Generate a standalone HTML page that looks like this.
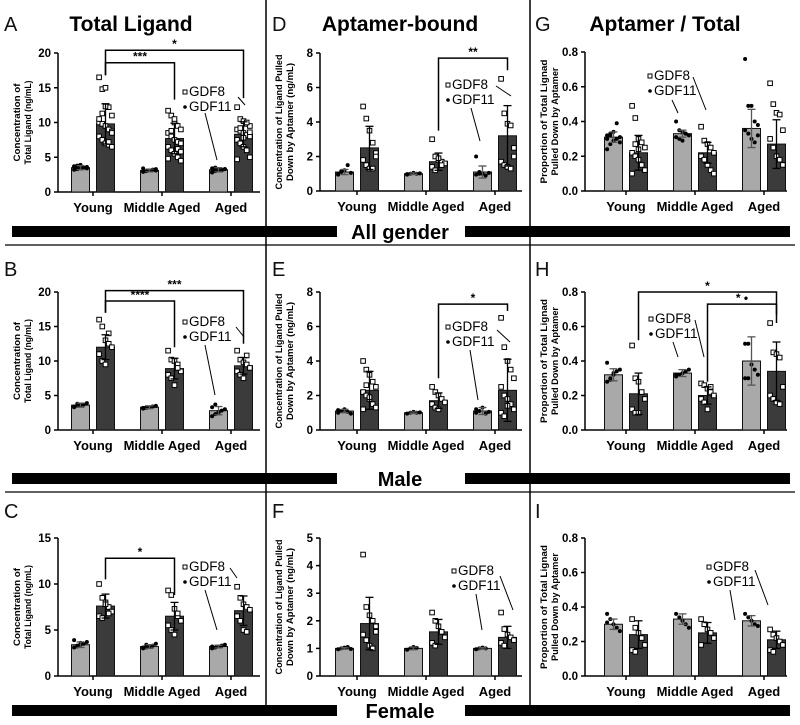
<!DOCTYPE html>
<html><head><meta charset="utf-8"><style>
html,body{margin:0;padding:0;background:#fff;}
svg{display:block;font-family:"Liberation Sans",Arial,sans-serif;}
</style></head><body>
<svg id="fig" width="800" height="725" viewBox="0 0 800 725"></svg>
<script>
// ---------- data ----------
const categories = ['Young','Middle Aged','Aged'];
// Panel A
const aMean11=[3.5,3.1,3.2], aErr11=[0.3,0.2,0.3], aMean8=[9.8,7.7,8.3], aErr8=[2.9,2.2,1.8];
const aPts11=[[3.2,3.3,3.4,3.5,3.6,3.7,3.8,3.9,3.5,3.4,3.6,3.3],[2.9,3.0,3.1,3.2,3.3,3.4,3.0,3.1,3.2,3.1],[2.8,3.0,3.1,3.2,3.3,3.4,3.5,3.2,3.1,3.3,2.9]];
const aPts8=[[16.5,14.8,15,12.2,11,10,9.8,9.5,9,8.7,8,7.5,7,6.8,6.5,10.5,11.3,12.3,7.2,8.5],[11.7,11,10,9.5,9,8.5,8,7.5,7.2,7,6.5,6,5.5,5,4.5,4.8,8.8,10.5,6.2,5.8],[12.2,10.5,10.2,9.8,9.5,9,8.8,8.5,8.2,8,7.5,7,6.5,6,5,4.7,9.2,7.8,10,8.6]];
const aBrFrom=[0,0], aBrTo=[1,2], aBrY=[18.6,20.4], aBrL=[16.8,16.8], aBrR=[13.3,13.5], aBrLbl=['***','*'];
// Panel B
const bMean11=[3.6,3.3,2.8], bErr11=[0.3,0.2,0.6], bMean8=[12,8.9,9.3], bErr8=[1.8,1.5,1.2];
const bPts11=[[3.3,3.5,3.6,3.7,3.9,3.4,3.8,3.6],[3.1,3.2,3.3,3.4,3.5,3.2,3.3],[2.0,2.3,2.6,2.8,3.0,3.3,3.7,2.5]];
const bPts8=[[16,15,13,12.5,12,11,10,9.5,14],[11.5,10.2,10,9.5,8.5,8,7.5,6.5,9],[11.5,10.2,9.8,9.5,9,8.5,8,7.5,10.8]];
const bBrFrom=[0,0], bBrTo=[1,2], bBrY=[18.7,20.2], bBrL=[17,17], bBrR=[12,12.5], bBrLbl=['****','***'];
// Panel C
const cMean11=[3.4,3.2,3.2], cErr11=[0.3,0.2,0.15], cMean8=[7.6,6.5,7.1], cErr8=[1.3,1.5,1.6];
const cPts11=[[3.1,3.3,3.4,3.5,3.7,3.9,3.2,3.6],[3.0,3.1,3.2,3.3,3.5,3.1,3.4],[3.0,3.1,3.2,3.3,3.4,3.2]];
const cPts8=[[10,8.5,8,7.5,7,6.5,6.3,7.8,6.8],[9.3,8.8,7.3,6.5,6,5.5,5,4.5,6.8],[9.7,8.5,7.8,7.5,7.2,6.5,6,5,4.8]];
const cBrFrom=[0], cBrTo=[1], cBrY=[12.8], cBrL=[10.5], cBrR=[8.8], cBrLbl=['*'];
// Panel D
const dMean11=[1.1,1.0,1.1], dErr11=[0.15,0.05,0.35], dMean8=[2.5,1.7,3.2], dErr8=[1.25,0.5,1.75];
const dPts11=[[1.0,1.1,1.2,1.5,1.05,0.95,1.15],[0.95,1.0,1.05,1.0,1.02,0.98],[2.0,1.1,1.0,0.9,1.05,0.95,1.0]];
const dPts8=[[4.9,4.2,3.5,2.8,2.2,1.8,1.5,1.3,1.3,2.0],[3.0,2.0,1.8,1.7,1.6,1.4,1.2,1.9,1.5],[6.5,4.5,3.9,3.8,2.0,1.7,1.5,1.4,1.3,2.5]];
const dBrFrom=[1], dBrTo=[2], dBrY=[7.7], dBrL=[3.5], dBrR=[7.0], dBrLbl=['**'];
// Panel E
const eMean11=[1.1,1.0,1.1], eErr11=[0.1,0.05,0.2], eMean8=[2.3,1.7,2.3], eErr8=[1.1,0.45,1.8];
const ePts11=[[1.0,1.1,1.2,1.05,0.95,1.15],[0.95,1.0,1.05,1.0,1.02],[1.0,1.1,1.3,0.95,1.05,1.2]];
const ePts8=[[4,3.5,3.2,2.8,2.5,2.2,2,1.8,1.5,1.3,1.2,2.6,1.9],[2.5,2.2,2,1.8,1.6,1.5,1.3,1.2],[6.5,4.8,4,3.5,3,2.5,2,1.8,1.5,1.2,1,0.8,1.4]];
const eBrFrom=[1], eBrTo=[2], eBrY=[7.3], eBrL=[3.0], eBrR=[6.9], eBrLbl=['*'];
// Panel F
const fMean11=[1.0,1.0,1.0], fErr11=[0.03,0.05,0.03], fMean8=[1.9,1.6,1.4], fErr8=[0.95,0.45,0.4];
const fPts11=[[0.97,1.0,1.03,1.05,0.98],[0.95,1.0,1.05,1.02],[0.97,1.0,1.03,1.0]];
const fPts8=[[4.4,2.5,2.2,2,1.8,1.5,1.3,1.1,1,1.6],[2.3,2,1.8,1.6,1.4,1.2,1.1],[2.3,1.7,1.5,1.4,1.3,1.2,1.1]];
const fBrFrom=[], fBrTo=[], fBrY=[], fBrL=[], fBrR=[], fBrLbl=[];
// Panel G
const gMean11=[0.31,0.33,0.36], gErr11=[0.03,0.02,0.11], gMean8=[0.22,0.22,0.27], gErr8=[0.1,0.06,0.14];
const gPts11=[[0.24,0.27,0.29,0.3,0.31,0.32,0.33,0.34,0.39,0.28,0.3,0.32],[0.4,0.35,0.34,0.33,0.32,0.31,0.3,0.29,0.33],[0.76,0.49,0.49,0.4,0.38,0.35,0.33,0.3,0.28,0.32]];
const gPts8=[[0.49,0.42,0.3,0.28,0.25,0.22,0.2,0.18,0.15,0.12,0.1,0.27,0.24],[0.37,0.29,0.27,0.25,0.22,0.2,0.18,0.15,0.12,0.1],[0.62,0.5,0.45,0.44,0.35,0.3,0.25,0.2,0.18,0.15]];
const gBrFrom=[], gBrTo=[], gBrY=[], gBrL=[], gBrR=[], gBrLbl=[];
// Panel H
const hMean11=[0.32,0.33,0.40], hErr11=[0.035,0.02,0.14], hMean8=[0.21,0.2,0.34], hErr8=[0.12,0.05,0.17];
const hPts11=[[0.28,0.3,0.32,0.34,0.35,0.39,0.29,0.33],[0.31,0.32,0.33,0.34,0.35,0.32],[0.5,0.5,0.38,0.35,0.32,0.3,0.3]];
const hPts8=[[0.49,0.3,0.28,0.22,0.18,0.12,0.1,0.1],[0.27,0.26,0.24,0.22,0.2,0.18,0.16,0.12,0.25],[0.62,0.45,0.44,0.42,0.25,0.2,0.18,0.16,0.15]];
const hBrFrom=[0,1], hBrTo=[2,2], hBrY=[0.8,0.73], hBrL=[0.52,0.28], hBrR=[0.62,0.67], hBrLbl=['*','* •'];
// Panel I
const iMean11=[0.30,0.33,0.32], iErr11=[0.03,0.03,0.03], iMean8=[0.24,0.25,0.21], iErr8=[0.08,0.06,0.05];
const iPts11=[[0.36,0.33,0.3,0.28,0.26,0.31],[0.36,0.34,0.32,0.3,0.28],[0.36,0.34,0.32,0.3,0.29]];
const iPts8=[[0.33,0.28,0.25,0.22,0.18,0.15,0.14],[0.33,0.3,0.27,0.25,0.22,0.18],[0.27,0.24,0.22,0.2,0.18,0.15,0.14]];
const iBrFrom=[], iBrTo=[], iBrY=[], iBrL=[], iBrR=[], iBrLbl=[];
// tick labels
const ticksA=['0','5','10','15','20'];
const ticksC=['0','5','10','15'];
const ticksD=['0','2','4','6','8'];
const ticksF=['0','1','2','3','4','5'];
const ticksG=['0.0','0.2','0.4','0.6','0.8'];

// ---------- drawing ----------
const NS='http://www.w3.org/2000/svg';
const svg=document.getElementById('fig');
function mk(tag,attrs,parent,txt){const e=document.createElementNS(NS,tag);for(const k in attrs)e.setAttribute(k,attrs[k]);if(txt!==undefined)e.textContent=txt;(parent||svg).appendChild(e);return e;}

function panel(p){
  const g=mk('g',{});
  
  
  const top=p.top, bot=p.bot, ax=p.ax, ymax=p.ymax;
  const y=v=>bot-v/ymax*(bot-top);
  const cx=(gi)=>ax+p.off+gi*69;
  const bx=(gi,b)=>cx(gi)+(b===0?-12.5:12.5);
  // letter
  const L=mk('text',{x:p.lx,y:p.ly,'font-size':20,fill:'#111'},g,p.letter);
  
  
  if(p.title){const T=mk('text',{x:p.tx,y:p.ly,'font-size':21,'font-weight':'bold','text-anchor':'middle'},g,p.title);
    
    }
  // y-axis title
  const mid=(top+bot)/2;
  p.ytitle.forEach((t,i)=>{const e=mk('text',{x:0,y:0,'font-size':9,'font-weight':'bold','text-anchor':'middle',transform:`translate(${ax-38+i*11},${mid}) rotate(-90)`,textLength:p.ytl[i],lengthAdjust:'spacingAndGlyphs'},g,t);
    
    });
  // axes
  mk('line',{x1:ax,y1:top,x2:ax,y2:bot,stroke:'#000','stroke-width':1.5},g);
  mk('line',{x1:ax,y1:bot,x2:ax+202,y2:bot,stroke:'#000','stroke-width':1.5},g);
  p.ticks.forEach((t,i)=>{const v=i*ymax/(p.ticks.length-1);
    mk('line',{x1:ax-4,y1:y(v),x2:ax,y2:y(v),stroke:'#000','stroke-width':1.5},g);
    const e=mk('text',{x:ax-7,y:y(v)+4,'font-size':11.5,'font-weight':'bold','text-anchor':'end'},g,t);
    
    });
  categories.forEach((c,gi)=>{
    mk('line',{x1:cx(gi),y1:bot,x2:cx(gi),y2:bot+4,stroke:'#000','stroke-width':1.5},g);
    const e=mk('text',{x:cx(gi),y:bot+20,'font-size':13,'font-weight':'bold','text-anchor':'middle'},g,c);
    
    });
  // bars
  const series=[[p.m11,p.e11,p.p11,'#a9a9a9','GDF11'],[p.m8,p.e8,p.p8,'#3b3b3b','GDF8']];
  series.forEach((s,b)=>{
    s[0].forEach((m,gi)=>{
      const x=bx(gi,b);
      const r=mk('rect',{x:x-9,y:y(m),width:18,height:bot-y(m),fill:s[3],stroke:'#111','stroke-width':1},g);
      
      
      const pts=s[2][gi];
      pts.forEach((v,k)=>{
        const dx=((k%5)-2)*3.2;
        if(b===1){const q=mk('rect',{x:x+dx-2.3,y:y(v)-2.3,width:4.6,height:4.6,fill:'#fff',stroke:'#000','stroke-width':1},g);
          
          }
        else {const q=mk('circle',{cx:x+dx,cy:y(v),r:2,fill:'#000'},g);
          
          }
      });
      const e=s[1][gi];
      const ec=b===1?'#000':'#555';
      mk('line',{x1:x,y1:y(m+e),x2:x,y2:y(Math.max(0,m-e)),stroke:ec,'stroke-width':1.3},g);
      mk('line',{x1:x-4,y1:y(m+e),x2:x+4,y2:y(m+e),stroke:ec,'stroke-width':1.3},g);
      mk('line',{x1:x-4,y1:y(Math.max(0,m-e)),x2:x+4,y2:y(Math.max(0,m-e)),stroke:ec,'stroke-width':1.3},g);
    });
  });
  // brackets
  p.brFrom.forEach((f,i)=>{
    const x1=bx(f,1), x2=bx(p.brTo[i],1), yy=y(p.brY[i]);
    const pl=mk('polyline',{points:`${x1},${y(p.brL[i])} ${x1},${yy} ${x2},${yy} ${x2},${y(p.brR[i])}`,fill:'none',stroke:'#000','stroke-width':1.5},g);
    
    
    const t=mk('text',{x:(x1+x2)/2,y:yy-2,'font-size':12,'font-weight':'bold','text-anchor':'middle'},g,p.brLbl[i]);
    
    
  });
  // legend
  const lx=p.leg[0], ly=p.leg[1];
  mk('rect',{x:lx,y:ly-6,width:4,height:4,fill:'#fff',stroke:'#000','stroke-width':1},g);
  const l1=mk('text',{x:lx+6,y:ly,'font-size':13.5},g,'GDF8');
  
  
  mk('circle',{cx:lx+2,cy:ly+11,r:1.8,fill:'#000'},g);
  const l2=mk('text',{x:lx+6,y:ly+15,'font-size':13.5},g,'GDF11');
  
  
  p.lines.forEach(l=>mk('line',{x1:l[0],y1:l[1],x2:l[2],y2:l[3],stroke:'#000','stroke-width':1},g));
}

const yt1=['Concentration of','Total Ligand (ng/mL)'], ytl1=[78,84];
const yt2=['Concentration of Ligand Pulled','Down by Aptamer (ng/mL)'], ytl2=[135,118];
const yt3=['Proportion of Total Lignad','Pulled Down by Aptamer'], ytl3=[124,108];
const rows=[{top:53,bot:192,ly:31},{top:292,bot:430,ly:276},{top:538,bot:676,ly:518}];

panel({id:'a',letter:'A',title:'Total Ligand',tx:131,lx:4,ly:31,top:53,bot:192,ax:58,off:35,ymax:20,ticks:ticksA,ytitle:yt1,ytl:ytl1,
  m11:aMean11,e11:aErr11,m8:aMean8,e8:aErr8,p11:aPts11,p8:aPts8,brFrom:aBrFrom,brTo:aBrTo,brY:aBrY,brL:aBrL,brR:aBrR,brLbl:aBrLbl,
  leg:[183,96],lines:[[238,97,245,105],[205,113,217,160]]});
panel({id:'b',letter:'B',lx:4,ly:276,top:292,bot:430,ax:58,off:35,ymax:20,ticks:ticksA,ytitle:yt1,ytl:ytl1,
  m11:bMean11,e11:bErr11,m8:bMean8,e8:bErr8,p11:bPts11,p8:bPts8,brFrom:bBrFrom,brTo:bBrTo,brY:bBrY,brL:bBrL,brR:bBrR,brLbl:bBrLbl,
  leg:[183,326],lines:[[236,327,244,337],[205,345,215,395]]});
panel({id:'c',letter:'C',lx:4,ly:518,top:538,bot:676,ax:58,off:35,ymax:15,ticks:ticksC,ytitle:yt1,ytl:ytl1,
  m11:cMean11,e11:cErr11,m8:cMean8,e8:cErr8,p11:cPts11,p8:cPts8,brFrom:cBrFrom,brTo:cBrTo,brY:cBrY,brL:cBrL,brR:cBrR,brLbl:cBrLbl,
  leg:[183,571],lines:[[230,568,237,578],[205,590,217,630]]});
panel({id:'d',letter:'D',title:'Aptamer-bound',tx:400,lx:272,ly:31,top:53,bot:191,ax:320,off:37,ymax:8,ticks:ticksD,ytitle:yt2,ytl:ytl2,
  m11:dMean11,e11:dErr11,m8:dMean8,e8:dErr8,p11:dPts11,p8:dPts8,brFrom:dBrFrom,brTo:dBrTo,brY:dBrY,brL:dBrL,brR:dBrR,brLbl:dBrLbl,
  leg:[446,89],lines:[[496,86,511,96],[471,108,480,141]]});
panel({id:'e',letter:'E',lx:272,ly:276,top:292,bot:430,ax:320,off:37,ymax:8,ticks:ticksD,ytitle:yt2,ytl:ytl2,
  m11:eMean11,e11:eErr11,m8:eMean8,e8:eErr8,p11:ePts11,p8:ePts8,brFrom:eBrFrom,brTo:eBrTo,brY:eBrY,brL:eBrL,brR:eBrR,brLbl:eBrLbl,
  leg:[446,331],lines:[[497,330,510,342],[470,350,478,400]]});
panel({id:'f',letter:'F',lx:272,ly:518,top:538,bot:676,ax:320,off:37,ymax:5,ticks:ticksF,ytitle:yt2,ytl:ytl2,
  m11:fMean11,e11:fErr11,m8:fMean8,e8:fErr8,p11:fPts11,p8:fPts8,brFrom:fBrFrom,brTo:fBrTo,brY:fBrY,brL:fBrL,brR:fBrR,brLbl:fBrLbl,
  leg:[452,575],lines:[[500,576,513,610],[476,594,482,630]]});
panel({id:'g',letter:'G',title:'Aptamer / Total',tx:665,lx:535,ly:31,top:52,bot:191,ax:585,off:41,ymax:0.8,ticks:ticksG,ytitle:yt3,ytl:ytl3,
  m11:gMean11,e11:gErr11,m8:gMean8,e8:gErr8,p11:gPts11,p8:gPts8,brFrom:gBrFrom,brTo:gBrTo,brY:gBrY,brL:gBrL,brR:gBrR,brLbl:gBrLbl,
  leg:[648,80],lines:[[693,77,706,110],[672,100,678,113]]});
panel({id:'h',letter:'H',lx:535,ly:276,top:292,bot:430,ax:585,off:41,ymax:0.8,ticks:ticksG,ytitle:yt3,ytl:ytl3,
  m11:hMean11,e11:hErr11,m8:hMean8,e8:hErr8,p11:hPts11,p8:hPts8,brFrom:hBrFrom,brTo:hBrTo,brY:hBrY,brL:hBrL,brR:hBrR,brLbl:hBrLbl,
  leg:[649,323],lines:[[695,320,704,357],[673,342,678,357]]});
panel({id:'i',letter:'I',lx:535,ly:518,top:538,bot:676,ax:585,off:41,ymax:0.8,ticks:ticksG,ytitle:yt3,ytl:ytl3,
  m11:iMean11,e11:iErr11,m8:iMean8,e8:iErr8,p11:iPts11,p8:iPts8,brFrom:iBrFrom,brTo:iBrTo,brY:iBrY,brL:iBrL,brR:iBrR,brLbl:iBrLbl,
  leg:[707,571],lines:[[755,570,768,605],[730,590,735,620]]});

// frame: dividers, section bars
[266,530].forEach(x=>{const l=mk('line',{x1:x,y1:0,x2:x,y2:706,stroke:'#000','stroke-width':1.5});
  
  });
[[226,245,'All gender'],[473,492,'Male'],[705,null,'Female']].forEach(r=>{
  mk('rect',{x:12,y:r[0],width:325,height:11,fill:'#000'});
  mk('rect',{x:465,y:r[0],width:325,height:11,fill:'#000'});
  const t=mk('text',{x:400,y:r[0]+13,'font-size':20,'font-weight':'bold','text-anchor':'middle'},svg,r[2]);
  
  
  if(r[1]!==null){const l=mk('line',{x1:5,y1:r[1],x2:795,y2:r[1],stroke:'#000','stroke-width':1.3});
    
    }
});
</script>
</body></html>
